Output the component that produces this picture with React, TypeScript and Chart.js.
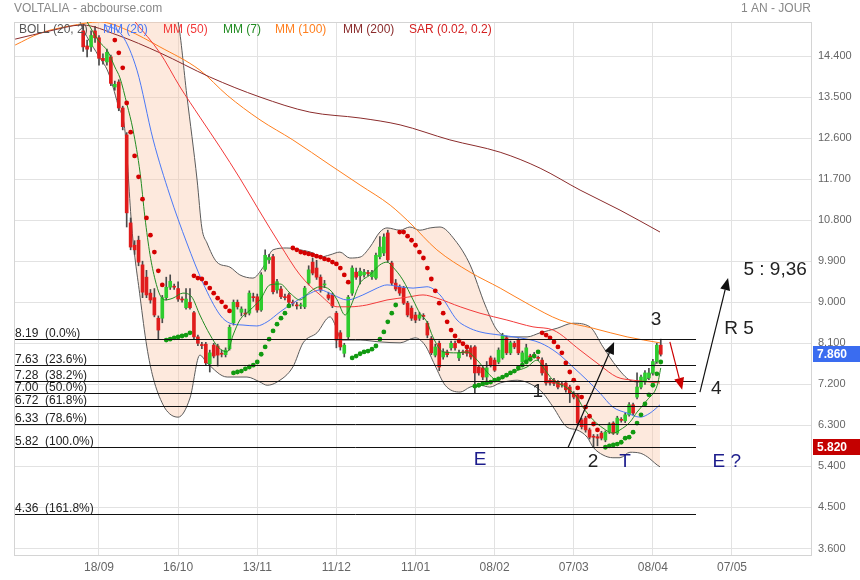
import React, { useEffect, useRef } from 'react';
import { Chart, registerables } from 'chart.js';

Chart.register(...registerables);

// ---------- axes ----------
const dateTickIdx = [0, 20, 40, 60, 80, 100, 120, 140, 160];
const dateLabels = ['18/09', '16/10', '13/11', '11/12', '11/01', '08/02', '07/03', '08/04', '07/05'];
const priceTicks = [3.6, 4.5, 5.4, 6.3, 7.2, 8.1, 9.0, 9.9, 10.8, 11.7, 12.6, 13.5, 14.4];
const xMin = -21.23;
const xMax = 179.97;
const yMin = 3.435;
const yMax = 15.146;

// ---------- candles (index -4 .. 142) ----------
const firstCandleIdx = -4;
const opens = [
  14.95, 14.62, 14.60, 14.95, 14.80, 14.35, 14.27, 14.38, 13.72, 13.83,
  13.26, 12.67, 10.74, 10.25, 10.36, 9.82, 9.55, 9.20, 9.10, 8.65,
  8.65, 9.10, 9.33, 9.35, 9.30, 9.07, 8.88, 9.00, 8.77, 8.24,
  8.07, 8.08, 7.65, 8.06, 8.04, 7.88, 7.85, 7.98, 8.55, 9.00,
  8.78, 8.76, 8.76, 9.12, 9.12, 8.83, 9.72, 9.93, 10.00, 9.27,
  9.29, 9.12, 9.16, 9.00, 8.94, 8.92, 8.90, 9.42, 9.88, 9.75,
  9.55, 9.38, 9.16, 9.16, 8.76, 8.33, 7.88, 8.24, 9.20, 9.66,
  9.58, 9.60, 9.65, 9.56, 9.53, 10.00, 10.08, 10.52, 9.86, 9.42,
  9.33, 9.31, 8.98, 8.87, 8.72, 8.65, 8.71, 8.54, 8.20, 7.84,
  8.10, 7.80, 7.91, 8.00, 8.10, 7.78, 7.91, 7.95, 8.00, 8.02,
  7.58, 7.56, 7.36, 7.78, 7.73, 7.69, 7.78, 8.22, 7.89, 8.10,
  8.17, 7.69, 7.69, 7.82, 7.85, 7.78, 7.73, 7.62, 7.29, 7.29,
  7.25, 7.21, 7.23, 7.14, 7.00, 6.97, 6.42, 6.46, 6.20, 6.06,
  6.05, 6.13, 5.98, 6.15, 6.35, 6.13, 6.43, 6.40, 6.53, 6.75,
  6.92, 7.14, 7.25, 7.34, 7.45, 7.70, 8.06,
];
const closes = [
  14.60, 14.55, 14.85, 14.80, 14.35, 14.30, 14.48, 13.80, 13.78, 13.26,
  12.85, 10.96, 10.21, 10.15, 9.88, 9.22, 9.16, 9.05, 8.72, 8.39,
  9.10, 9.33, 9.46, 9.33, 9.07, 9.05, 9.07, 8.88, 8.24, 8.10,
  8.05, 7.67, 7.89, 7.82, 7.84, 7.86, 7.95, 8.45, 9.00, 8.90,
  8.85, 8.74, 9.20, 9.10, 8.83, 9.60, 10.03, 9.98, 9.23, 9.45,
  9.12, 9.10, 9.00, 8.98, 8.92, 8.93, 9.31, 9.71, 9.64, 9.55,
  9.27, 9.40, 9.09, 8.92, 8.17, 8.02, 8.06, 9.11, 9.75, 9.55,
  9.68, 9.66, 9.63, 9.66, 10.03, 10.21, 10.43, 9.93, 9.42, 9.29,
  9.20, 8.98, 8.72, 8.65, 8.61, 8.72, 8.69, 8.28, 7.89, 8.02,
  7.58, 7.91, 7.85, 8.10, 8.00, 7.89, 7.89, 7.88, 7.80, 7.45,
  7.45, 7.36, 7.56, 7.62, 7.51, 7.95, 8.28, 7.89, 8.11, 8.02,
  7.89, 7.89, 8.00, 7.80, 7.83, 7.77, 7.45, 7.23, 7.23, 7.22,
  7.14, 7.19, 7.08, 7.00, 6.92, 6.35, 6.27, 6.20, 6.04, 6.04,
  6.02, 6.02, 6.15, 6.33, 6.13, 6.46, 6.41, 6.53, 6.75, 6.57,
  7.14, 7.36, 7.45, 7.45, 7.70, 8.06, 7.86,
];
const highs = [
  15.10, 14.75, 14.95, 15.05, 14.85, 14.45, 14.55, 14.42, 13.85, 13.88,
  13.30, 12.72, 10.85, 10.35, 10.45, 9.90, 9.70, 9.28, 9.30, 8.70,
  9.15, 9.55, 9.60, 9.40, 9.45, 9.12, 9.30, 9.30, 8.80, 8.28,
  8.12, 8.12, 7.95, 8.10, 8.08, 7.95, 8.00, 8.50, 9.05, 9.05,
  8.90, 8.85, 9.25, 9.20, 9.18, 9.65, 10.15, 10.05, 10.05, 9.50,
  9.35, 9.18, 9.20, 9.05, 9.00, 8.98, 9.35, 9.80, 9.97, 9.92,
  9.60, 9.48, 9.22, 9.20, 8.80, 8.38, 8.10, 9.15, 9.80, 9.75,
  9.75, 9.72, 9.70, 9.70, 10.08, 10.44, 10.50, 10.58, 9.90, 9.50,
  9.38, 9.35, 9.02, 8.92, 8.78, 8.78, 8.75, 8.58, 8.25, 8.08,
  8.15, 7.98, 7.95, 8.15, 8.15, 7.95, 7.95, 8.00, 8.05, 8.05,
  7.62, 7.60, 7.70, 7.82, 7.78, 8.00, 8.32, 8.26, 8.15, 8.14,
  8.20, 7.93, 8.08, 7.86, 7.90, 7.82, 7.78, 7.66, 7.33, 7.33,
  7.28, 7.25, 7.27, 7.18, 7.04, 7.00, 6.46, 6.50, 6.24, 6.10,
  6.10, 6.17, 6.18, 6.36, 6.38, 6.50, 6.47, 6.57, 6.80, 6.79,
  7.45, 7.40, 7.50, 7.55, 7.75, 8.10, 8.19,
];
const lows = [
  14.50, 14.38, 14.50, 14.70, 14.20, 14.22, 14.20, 13.75, 13.65, 13.20,
  12.78, 10.65, 10.15, 10.05, 9.80, 9.10, 9.10, 8.98, 8.68, 8.20,
  8.55, 9.05, 9.28, 9.28, 9.02, 9.00, 8.85, 8.85, 8.20, 8.05,
  7.98, 7.62, 7.47, 7.78, 7.60, 7.80, 7.80, 7.95, 8.50, 8.85,
  8.70, 8.68, 8.72, 9.02, 8.78, 8.80, 9.68, 9.85, 9.18, 9.20,
  9.08, 9.05, 8.95, 8.92, 8.85, 8.86, 8.86, 9.38, 9.60, 9.50,
  9.22, 9.32, 9.05, 8.88, 8.00, 7.95, 7.80, 8.20, 9.15, 9.50,
  9.40, 9.55, 9.58, 9.50, 9.50, 9.95, 10.02, 9.88, 9.38, 9.25,
  9.15, 8.95, 8.68, 8.60, 8.55, 8.60, 8.62, 8.22, 7.85, 7.80,
  7.50, 7.75, 7.80, 7.95, 7.95, 7.72, 7.85, 7.82, 7.75, 7.00,
  7.40, 7.30, 7.20, 7.58, 7.48, 7.65, 7.75, 7.85, 7.85, 7.98,
  7.85, 7.65, 7.66, 7.75, 7.78, 7.72, 7.40, 7.18, 7.18, 7.17,
  7.10, 7.14, 7.03, 6.80, 6.88, 6.30, 6.22, 6.15, 6.00, 5.82,
  5.85, 5.98, 5.94, 6.12, 6.10, 6.10, 6.37, 6.36, 6.50, 6.53,
  6.88, 7.10, 7.20, 7.30, 7.40, 7.66, 7.82,
];

// ---------- moving averages (sampled points: index, value) ----------
const mm200Idx = [-21.2, -12.4, -4.3, 4.6, 15.4, 28, 40.7, 53.3, 66, 76.1, 88.7, 101.4, 111.5, 121.6, 131.7, 141.8];
const mm200Val = [14.77, 14.95, 15.08, 14.86, 14.47, 13.94, 13.50, 13.17, 13.04, 12.89, 12.56, 12.29, 11.94, 11.46, 11.02, 10.54];

const mm100Idx = [-21.2, -14.9, -7.3, 0.25, 7.1, 15.4, 25.5, 32.4, 40.7, 49, 58.4, 66, 73.6, 78.6, 85.4, 93.8, 101.4, 108.9, 116.5, 124.9, 133.5, 141.8];
const mm100Val = [14.64, 14.90, 15.06, 15.15, 14.97, 14.60, 14.09, 13.54, 13.00, 12.56, 12.01, 11.57, 11.13, 10.74, 10.15, 9.66, 9.31, 8.94, 8.61, 8.43, 8.24, 8.11];

const mm50Idx = [9.1, 15.4, 20.5, 25.5, 30.6, 35.6, 40.7, 45.8, 50.8, 55.9, 60.2, 63.4, 67.7, 72.8, 77.9, 81.9, 85.4, 91.3, 96.3, 103.1, 109.7, 114.8, 121.6, 126.6, 130.9, 135, 141.8];
const mm50Val = [15.15, 14.47, 13.72, 13.06, 12.40, 11.72, 10.98, 10.26, 9.60, 9.16, 8.90, 8.90, 8.94, 9.05, 9.11, 9.16, 9.09, 8.90, 8.76, 8.61, 8.46, 8.39, 7.95, 7.62, 7.36, 7.29, 7.23];

const mm20Idx = [1.5, 5.8, 9.6, 13.7, 17.9, 22.2, 26.3, 30.6, 33.1, 36.4, 39.9, 42.5, 45.8, 49.0, 52.6, 55.9, 59.2, 62.7, 66.7, 70.3, 72.8, 76.1, 79.4, 82.9, 86.2, 90.5, 93.0, 96.3, 101.4, 106.4, 111.5, 115.8, 119.8, 123.4, 126.6, 129.9, 133.5, 136.8, 139.3, 141.8];
const mm20Val = [15.08, 14.86, 14.09, 12.56, 11.35, 10.30, 9.42, 8.72, 8.54, 8.50, 8.48, 8.57, 8.79, 8.98, 9.16, 9.27, 9.16, 9.05, 9.16, 9.31, 9.38, 9.34, 9.31, 9.34, 9.16, 8.61, 8.46, 8.35, 8.28, 8.22, 8.11, 7.89, 7.58, 7.29, 7.01, 6.70, 6.57, 6.48, 6.57, 6.75];

const mm7Idx = [-3.0, -0.25, 2.3, 4.0, 5.3, 7.1, 8.6, 10.4, 11.6, 12.9, 14.2, 15.4, 16.7, 18.7, 21.2, 23.5, 25.5, 28.1, 30.1, 32.4, 33.9, 35.6, 38.2, 40.7, 43.2, 45.8, 48.3, 50.8, 53.3, 55.9, 58.4, 60.2, 62.2, 63.4, 66.0, 68.5, 71.0, 72.8, 74.3, 76.8, 79.4, 81.1, 82.9, 84.4, 87.0, 90.5, 93.0, 95.6, 98.1, 100.6, 102.1, 104.7, 108.2, 110.7, 112.2, 114.8, 118.3, 120.8, 122.3, 124.9, 127.4, 129.9, 131.7, 134.2, 136.0, 138.6, 141.1, 142.0];
const mm7Val = [15.15, 14.75, 14.49, 14.16, 13.92, 13.33, 12.78, 11.83, 10.87, 10.04, 9.49, 9.16, 9.05, 9.09, 9.20, 9.11, 8.72, 8.28, 8.02, 7.91, 8.28, 8.61, 8.83, 9.05, 9.38, 9.40, 9.20, 9.05, 9.23, 9.34, 9.27, 9.05, 8.72, 8.87, 9.42, 9.60, 9.82, 9.88, 9.77, 9.49, 9.05, 8.76, 8.57, 8.24, 7.91, 7.89, 7.91, 7.73, 7.47, 7.29, 7.34, 7.47, 7.58, 7.73, 7.58, 7.29, 7.12, 6.92, 6.70, 6.42, 6.24, 6.13, 6.20, 6.37, 6.59, 6.86, 7.18, 7.56];

// ---------- Bollinger (20, 2) ----------
const bollUpIdx = [-5, 5, 14, 20.0, 22.2, 24.8, 26.0, 27.3, 29.8, 33.1, 35.6, 38.9, 41.5, 44.0, 47.5, 50.8, 54.1, 55.9, 58.4, 60.9, 63.4, 66.0, 68.5, 71.0, 72.8, 76.1, 78.6, 81.1, 83.7, 86.2, 90.0, 93.8, 97.6, 100.6, 103.9, 108.2, 111.5, 115.8, 119.8, 124.1, 127.4, 130.9, 134.2, 136.8, 140.0, 141.8];
const bollUpVal = [16.4, 16.8, 16.2, 15.15, 13.54, 11.68, 10.63, 10.30, 9.88, 9.77, 9.60, 9.53, 9.77, 10.15, 10.19, 10.15, 10.08, 9.99, 10.04, 10.10, 9.97, 9.99, 10.21, 10.54, 10.63, 10.58, 10.65, 10.58, 10.63, 10.65, 10.36, 9.82, 8.94, 8.39, 8.24, 8.24, 8.33, 8.43, 8.54, 8.46, 8.02, 7.58, 7.29, 7.25, 7.51, 8.02];
const bollLowIdx = [-6, -4.8, -0.25, 2.3, 4.8, 6.6, 8.3, 10.4, 12.1, 13.7, 16.2, 17.9, 20.0, 23.0, 25.5, 27.3, 32.4, 37.4, 40.7, 42.5, 45.0, 49.0, 51.6, 55.1, 58.4, 59.9, 61.2, 66.0, 71.0, 76.1, 79.9, 82.4, 84.9, 87.5, 91.3, 93.8, 96.3, 98.8, 101.4, 105.7, 109.7, 112.2, 114.8, 118.3, 120.8, 123.4, 124.9, 127.4, 129.9, 131.7, 134.2, 136.8, 138.6, 141.1, 141.8];
const bollLowVal = [15.5, 15.15, 14.42, 14.05, 13.33, 12.73, 10.63, 9.11, 8.02, 7.34, 6.75, 6.55, 6.48, 6.90, 7.84, 7.67, 7.36, 7.36, 7.25, 7.18, 7.25, 7.58, 8.11, 8.33, 8.68, 8.46, 8.17, 8.17, 8.13, 8.11, 8.22, 8.06, 7.62, 7.18, 7.03, 7.14, 7.18, 7.14, 7.23, 7.29, 7.18, 7.01, 6.70, 6.26, 6.20, 6.04, 5.82, 5.65, 5.59, 5.59, 5.71, 5.69, 5.61, 5.43, 5.39];

// ---------- Parabolic SAR (0.02, 0.2): runs start index + values ----------
const sarRedStart = [4, 24, 49, 76, 112];
const sarRedRuns = [
  [14.75, 14.47, 14.14, 13.37, 12.73, 12.21, 11.75, 11.26, 10.85, 10.47, 10.10, 9.69, 9.38],
  [9.58, 9.53, 9.51, 9.42, 9.31, 9.20, 9.09, 9.01, 8.90, 8.81],
  [10.19, 10.15, 10.10, 10.08, 10.06, 10.04, 10.01, 9.99, 9.95, 9.93, 9.88, 9.84, 9.75, 9.60, 9.44],
  [10.54, 10.54, 10.45, 10.36, 10.25, 10.10, 9.97, 9.75, 9.51, 9.25, 8.98, 8.76, 8.57, 8.39, 8.26, 8.15, 8.09, 8.02],
  [8.33, 8.28, 8.22, 8.13, 8.02, 7.89, 7.67, 7.47, 7.29, 7.12, 6.92, 6.70, 6.50, 6.33, 6.20],
];
const sarGreenStart = [17, 34, 64, 95, 128];
const sarGreenRuns = [
  [8.17, 8.19, 8.22, 8.24, 8.26, 8.28, 8.33],
  [7.45, 7.47, 7.49, 7.54, 7.58, 7.62, 7.69, 7.86, 8.02, 8.19, 8.37, 8.52, 8.65, 8.76, 8.92],
  [7.78, 7.82, 7.87, 7.91, 7.93, 7.97, 8.04, 8.19, 8.35, 8.57, 8.76, 8.94],
  [7.16, 7.18, 7.21, 7.23, 7.25, 7.29, 7.32, 7.36, 7.40, 7.45, 7.49, 7.56, 7.62, 7.69, 7.75, 7.82, 7.91],
  [5.82, 5.85, 5.87, 5.89, 5.93, 6.02, 6.04, 6.15, 6.35, 6.53, 6.77, 6.97, 7.18, 7.43, 7.69],
];

// ---------- Fibonacci retracement ----------
const fibLevels = [8.19, 7.63, 7.28, 7.0, 6.72, 6.33, 5.82, 4.36];
const fibPct = ['0.0%', '23.6%', '38.2%', '50.0%', '61.8%', '78.6%', '100.0%', '161.8%'];
const fibEndIdx = 150.9;

// ---------- annotations ----------
const noteText = ['3', '1', '2', 'T', 'E', 'E ?', '4', 'R 5', '5 : 9,36'];
const noteIdx = [140.8, 110.9, 124.9, 133.0, 96.3, 158.7, 156.0, 161.8, 170.9];
const noteVal = [8.61, 7.03, 5.50, 5.50, 5.54, 5.50, 7.10, 8.41, 9.71];
const noteColor = ['#222', '#222', '#222', '#1c1c8c', '#1c1c8c', '#1c1c8c', '#222', '#222', '#222'];

const arrowFromIdx = [118.6, 151.9, 144.3];
const arrowFromVal = [5.82, 7.03, 8.13];
const arrowToIdx = [130.2, 159.0, 147.4];
const arrowToVal = [8.13, 9.53, 7.08];
const arrowColor = ['#111', '#111', '#cc0000'];

const legendText = ['BOLL (20, 2)', 'MM (20)', 'MM (50)', 'MM (7)', 'MM (100)', 'MM (200)', 'SAR (0.02, 0.2)'];
const legendColor = ['#555555', '#4a78f5', '#f23a3a', '#228b22', '#ff7f1e', '#8b2c2c', '#d42020'];
const legendX = [19, 103, 163, 223, 275, 343, 409];

const FONT = 'Arial, "Liberation Sans", Helvetica, sans-serif';
const UP = '#2ecc2e';
const DOWN = '#e01c1c';

function pts(idx: number[], val: number[]) {
  return idx.map((x, k) => ({ x, y: val[k] }));
}
function runPts(starts: number[], runs: number[][]) {
  const out: { x: number; y: number }[] = [];
  runs.forEach((run, r) => run.forEach((v, k) => out.push({ x: starts[r] + k, y: v })));
  return out;
}

function drawArrow(ctx: CanvasRenderingContext2D, x1: number, y1: number, x2: number, y2: number, color: string) {
  const ang = Math.atan2(y2 - y1, x2 - x1);
  const hl = 12;
  const hw = 5;
  const bx = x2 - hl * Math.cos(ang);
  const by = y2 - hl * Math.sin(ang);
  ctx.strokeStyle = color;
  ctx.fillStyle = color;
  ctx.lineWidth = 1.2;
  ctx.beginPath();
  ctx.moveTo(x1, y1);
  ctx.lineTo(bx, by);
  ctx.stroke();
  ctx.beginPath();
  ctx.moveTo(x2, y2);
  ctx.lineTo(bx + hw * Math.sin(ang), by - hw * Math.cos(ang));
  ctx.lineTo(bx - hw * Math.sin(ang), by + hw * Math.cos(ang));
  ctx.closePath();
  ctx.fill();
}

const overlayPlugin = {
  id: 'overlay',
  beforeDatasetsDraw(chart: any) {
    const { ctx, chartArea: a } = chart;
    ctx.save();
    ctx.strokeStyle = '#d4d4d4';
    ctx.lineWidth = 1;
    ctx.strokeRect(Math.round(a.left) - 0.5, Math.round(a.top) + 0.5, Math.round(a.right - a.left) + 1, Math.round(a.bottom - a.top) - 1);
    ctx.restore();
  },
  afterDatasetsDraw(chart: any) {
    const { ctx, chartArea: a } = chart;
    const xs = chart.scales.x;
    const ys = chart.scales.y;
    ctx.save();
    // Fibonacci lines + labels
    const xEnd = Math.round(xs.getPixelForValue(fibEndIdx));
    fibLevels.forEach((lv, k) => {
      const py = Math.round(ys.getPixelForValue(lv)) + 0.5;
      ctx.strokeStyle = '#111';
      ctx.lineWidth = 1;
      ctx.beginPath();
      ctx.moveTo(a.left, py);
      ctx.lineTo(xEnd, py);
      ctx.stroke();
      ctx.fillStyle = '#222';
      ctx.font = '12px ' + FONT;
      ctx.textAlign = 'left';
      ctx.textBaseline = 'alphabetic';
      ctx.fillText(lv.toFixed(2) + '  (' + fibPct[k] + ')', a.left, py - 2.5);
    });
    // arrows
    arrowFromIdx.forEach((fi, k) => {
      drawArrow(
        ctx,
        xs.getPixelForValue(fi),
        ys.getPixelForValue(arrowFromVal[k]),
        xs.getPixelForValue(arrowToIdx[k]),
        ys.getPixelForValue(arrowToVal[k]),
        arrowColor[k]
      );
    });
    // notes
    ctx.font = '19px ' + FONT;
    ctx.textAlign = 'center';
    ctx.textBaseline = 'middle';
    noteText.forEach((t, k) => {
      ctx.fillStyle = noteColor[k];
      ctx.fillText(t, xs.getPixelForValue(noteIdx[k]), ys.getPixelForValue(noteVal[k]));
    });
    ctx.restore();
  },
  afterDraw(chart: any) {
    const { ctx, chartArea: a } = chart;
    const ys = chart.scales.y;
    ctx.save();
    // header
    ctx.font = '12px ' + FONT;
    ctx.fillStyle = '#888';
    ctx.textBaseline = 'middle';
    ctx.textAlign = 'left';
    ctx.fillText('VOLTALIA - abcbourse.com', 14, 9);
    ctx.textAlign = 'right';
    ctx.fillText('1 AN - JOUR', 811, 9);
    // legend inside plot
    ctx.textAlign = 'left';
    ctx.font = '12px ' + FONT;
    legendText.forEach((t, k) => {
      ctx.fillStyle = legendColor[k];
      ctx.fillText(t, legendX[k], a.top + 8);
    });
    // value boxes on the right axis
    const lastPrice = closes[closes.length - 1];
    const lowPrice = Math.min(...lows);
    const boxVals = [lastPrice, lowPrice];
    const boxColors = ['#3a6cf0', '#c40000'];
    boxVals.forEach((v, k) => {
      const py = Math.round(ys.getPixelForValue(v));
      ctx.fillStyle = boxColors[k];
      ctx.fillRect(a.right + 2, py - 8, 860 - a.right - 2, 16);
      ctx.fillStyle = '#fff';
      ctx.font = 'bold 12px ' + FONT;
      ctx.textAlign = 'left';
      ctx.textBaseline = 'middle';
      ctx.fillText(v.toFixed(3), a.right + 6, py + 0.5);
    });
    ctx.restore();
  },
};

export default function App() {
  const ref = useRef<HTMLCanvasElement>(null);

  useEffect(() => {
    const candleX = opens.map((_, k) => firstCandleIdx + k);
    const lineBase = { type: 'line', pointRadius: 0, borderWidth: 1, fill: false, cubicInterpolationMode: 'monotone' };
    const chart = new Chart(ref.current as HTMLCanvasElement, {
      type: 'line',
      data: {
        datasets: [
          {
            ...lineBase,
            label: 'BOLL up',
            data: pts(bollUpIdx, bollUpVal),
            borderColor: '#5a5a5a',
            fill: '+1',
            backgroundColor: 'rgba(250,200,170,0.40)',
            order: 20,
          },
          {
            ...lineBase,
            label: 'BOLL low',
            data: pts(bollLowIdx, bollLowVal),
            borderColor: '#5a5a5a',
            order: 19,
          },
          {
            type: 'bar',
            label: 'wick',
            data: candleX.map((x, k) => ({ x, y: [lows[k], highs[k]] })),
            backgroundColor: '#4a4a4a',
            barThickness: 1,
            maxBarThickness: 1,
            grouped: false,
            borderWidth: 0,
            order: 12,
          },
          {
            type: 'bar',
            label: 'body',
            data: candleX.map((x, k) => ({ x, y: [opens[k], closes[k]] })),
            backgroundColor: candleX.map((_, k) => (closes[k] >= opens[k] ? UP : DOWN)),
            barThickness: 3,
            maxBarThickness: 3,
            minBarLength: 1,
            grouped: false,
            borderWidth: 0,
            order: 11,
          },
          { ...lineBase, label: 'MM (200)', data: pts(mm200Idx, mm200Val), borderColor: '#8b2c2c', order: 6 },
          { ...lineBase, label: 'MM (100)', data: pts(mm100Idx, mm100Val), borderColor: '#ff7f1e', order: 6 },
          { ...lineBase, label: 'MM (50)', data: pts(mm50Idx, mm50Val), borderColor: '#f23a3a', order: 5 },
          { ...lineBase, label: 'MM (20)', data: pts(mm20Idx, mm20Val), borderColor: '#4a78f5', order: 5 },
          { ...lineBase, label: 'MM (7)', data: pts(mm7Idx, mm7Val), borderColor: '#228b22', order: 4 },
          {
            type: 'line',
            label: 'SAR down',
            data: runPts(sarRedStart, sarRedRuns),
            showLine: false,
            pointRadius: 2.4,
            pointBorderWidth: 0,
            pointBackgroundColor: '#d40000',
            order: 1,
          },
          {
            type: 'line',
            label: 'SAR up',
            data: runPts(sarGreenStart, sarGreenRuns),
            showLine: false,
            pointRadius: 2.4,
            pointBorderWidth: 0,
            pointBackgroundColor: '#119a11',
            order: 1,
          },
        ] as any,
      },
      options: {
        responsive: false,
        animation: false,
        devicePixelRatio: 1,
        events: [],
        layout: { padding: { left: 15, top: 22, right: 0, bottom: 0 } },
        plugins: {
          legend: { display: false },
          tooltip: { enabled: false },
          title: { display: false },
        },
        scales: {
          x: {
            type: 'linear',
            min: xMin,
            max: xMax,
            offset: false,
            border: { display: false },
            grid: { color: '#e2e2e2', drawTicks: false, offset: false },
            afterBuildTicks: (axis: any) => {
              axis.ticks = dateTickIdx.map((v) => ({ value: v }));
            },
            afterFit: (axis: any) => {
              axis.height = 24;
            },
            ticks: {
              autoSkip: false,
              maxRotation: 0,
              padding: 4,
              color: '#666',
              font: { size: 12, family: '"Liberation Sans Narrow", "Arial Narrow", ' + FONT },
              callback: (v: any) => {
                const k = dateTickIdx.indexOf(Number(v));
                return k >= 0 ? dateLabels[k] : '';
              },
            },
          },
          y: {
            type: 'linear',
            position: 'right',
            min: yMin,
            max: yMax,
            border: { display: false },
            grid: { color: '#e2e2e2', drawTicks: false },
            afterBuildTicks: (axis: any) => {
              axis.ticks = priceTicks.map((v) => ({ value: v }));
            },
            afterFit: (axis: any) => {
              axis.width = 49;
            },
            ticks: {
              padding: 7,
              color: '#666',
              font: { size: 11, family: FONT },
              callback: (v: any) => Number(v).toFixed(3),
            },
          },
        },
      } as any,
      plugins: [overlayPlugin as any],
    });
    return () => chart.destroy();
  }, []);

  return (
    <div style={{ position: 'absolute', left: 0, top: 0, width: 860, height: 580, background: '#fff' }}>
      <canvas ref={ref} width={860} height={580} style={{ display: 'block', width: 860, height: 580 }} />
    </div>
  );
}
